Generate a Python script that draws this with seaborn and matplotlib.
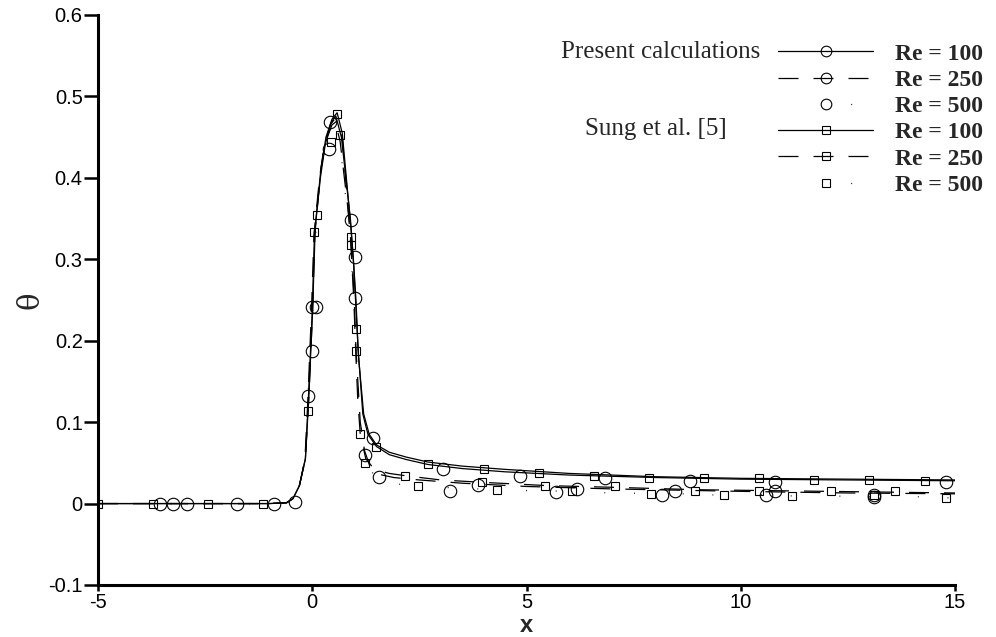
import numpy as np
import pandas as pd
import matplotlib
matplotlib.use("Agg")
import matplotlib.pyplot as plt
from matplotlib.lines import Line2D
import seaborn as sns

# ---------------- data ----------------
x_ticks = [-5, 0, 5, 10, 15]
x_tick_labels = ["-5", "0", "5", "10", "15"]
y_ticks = [-0.1, 0.0, 0.1, 0.2, 0.3, 0.4, 0.5, 0.6]
y_tick_labels = ["-0.1", "0", "0.1", "0.2", "0.3", "0.4", "0.5", "0.6"]

legend_labels = ["Re = 100", "Re = 250", "Re = 500", "Re = 100", "Re = 250", "Re = 500"]
group_labels = ["Present calculations", "Sung et al. [5]"]

# Present calculations, Re = 100 (curve)
p100_line_x = [-5, -1, -0.6, -0.45, -0.3, -0.16, -0.09, 0.0, 0.05, 0.19, 0.3, 0.44, 0.55, 0.68, 0.89, 0.96,
               1.02, 1.07, 1.18, 1.3, 1.5, 1.8, 2.2, 2.7, 3.5, 4.5, 6, 8, 10, 12.5, 15]
p100_line_y = [0, 0, 0.001, 0.006, 0.022, 0.055, 0.13, 0.235, 0.33, 0.40, 0.44, 0.468, 0.476, 0.45, 0.35, 0.30,
               0.25, 0.19, 0.11, 0.085, 0.07, 0.06, 0.054, 0.048, 0.043, 0.039, 0.035, 0.032, 0.030, 0.029, 0.028]
p100_mark_x = [-3.55, -1.75, -0.4, 0.0, 0.42, 0.91, 1.0, 1.42, 3.06, 4.85, 6.84, 8.82, 10.8, 14.8]
p100_mark_y = [0, 0, 0.002, 0.241, 0.468, 0.348, 0.303, 0.08, 0.043, 0.034, 0.031, 0.028, 0.027, 0.027]

# Present calculations, Re = 250
p250_line_x = [-5, -1, -0.6, -0.45, -0.3, -0.17, -0.1, -0.02, 0.04, 0.17, 0.28, 0.42, 0.52, 0.65, 0.86, 0.93,
               0.98, 1.02, 1.12, 1.22, 1.35, 1.55, 1.9, 2.5, 3.5, 5, 7, 10, 12.5, 15]
p250_line_y = [0, 0, 0.001, 0.006, 0.022, 0.055, 0.13, 0.235, 0.33, 0.40, 0.44, 0.465, 0.472, 0.445, 0.35, 0.30,
               0.25, 0.19, 0.10, 0.065, 0.045, 0.036, 0.032, 0.029, 0.025, 0.021, 0.018, 0.015, 0.013, 0.012]
p250_mark_x = [-3.24, -0.9, 0.09, 0.40, 1.0, 1.24, 1.56, 3.87, 6.18, 8.47, 10.8, 13.1]
p250_mark_y = [0, 0, 0.241, 0.435, 0.252, 0.06, 0.033, 0.023, 0.018, 0.016, 0.015, 0.011]

# Present calculations, Re = 500
p500_line_x = [-5, -1, -0.6, -0.45, -0.3, -0.17, -0.1, -0.02, 0.04, 0.17, 0.28, 0.42, 0.52, 0.65, 0.86, 0.93,
               0.98, 1.02, 1.1, 1.2, 1.35, 1.6, 2.0, 3, 5, 7, 10, 12.5, 15]
p500_line_y = [0, 0, 0.001, 0.006, 0.022, 0.055, 0.13, 0.235, 0.33, 0.40, 0.44, 0.462, 0.47, 0.44, 0.34, 0.29,
               0.24, 0.18, 0.095, 0.06, 0.04, 0.03, 0.025, 0.02, 0.016, 0.013, 0.011, 0.009, 0.008]
p500_mark_x = [-2.92, -0.09, 0.0, 3.22, 5.7, 8.17, 10.6, 13.1]
p500_mark_y = [0, 0.132, 0.187, 0.016, 0.014, 0.011, 0.010, 0.008]

# Sung et al. [5], Re = 100
s100_line_x = [-5, -1, -0.6, -0.45, -0.3, -0.16, -0.08, 0.01, 0.07, 0.2, 0.32, 0.46, 0.58, 0.7, 0.9, 0.97,
               1.03, 1.08, 1.2, 1.33, 1.5, 1.8, 2.2, 2.7, 3.5, 4.5, 6, 8, 10, 12.5, 15]
s100_line_y = [0, 0, 0.001, 0.006, 0.022, 0.055, 0.13, 0.24, 0.34, 0.41, 0.45, 0.472, 0.48, 0.455, 0.34, 0.29,
               0.23, 0.18, 0.11, 0.085, 0.072, 0.063, 0.057, 0.051, 0.046, 0.042, 0.037, 0.033, 0.031, 0.030, 0.029]
s100_mark_x = [-5, -2.43, 0.11, 0.58, 0.91, 1.03, 1.49, 2.71, 4.01, 5.3, 6.58, 7.86, 9.15, 10.43, 11.7, 13.0, 14.3]
s100_mark_y = [0, 0, 0.355, 0.479, 0.327, 0.215, 0.069, 0.049, 0.042, 0.037, 0.034, 0.031, 0.031, 0.032, 0.029,
               0.029, 0.028]

# Sung et al. [5], Re = 250
s250_line_x = [-5, -1, -0.6, -0.45, -0.3, -0.16, -0.08, 0.01, 0.06, 0.2, 0.32, 0.46, 0.58, 0.7, 0.9, 0.97,
               1.02, 1.06, 1.12, 1.25, 1.45, 1.8, 2.2, 3, 4, 5.5, 7, 9, 12, 15]
s250_line_y = [0, 0, 0.001, 0.006, 0.022, 0.055, 0.13, 0.24, 0.33, 0.41, 0.445, 0.465, 0.47, 0.45, 0.32, 0.25,
               0.18, 0.13, 0.085, 0.055, 0.042, 0.037, 0.034, 0.029, 0.026, 0.022, 0.02, 0.017, 0.015, 0.013]
s250_mark_x = [-3.71, 0.04, 0.65, 0.91, 1.12, 2.17, 3.97, 5.44, 7.07, 8.94, 10.43, 12.1, 13.6]
s250_mark_y = [0, 0.333, 0.453, 0.318, 0.086, 0.034, 0.027, 0.022, 0.021, 0.016, 0.016, 0.015, 0.015]

# Sung et al. [5], Re = 500
s500_line_x = [-5, -1, -0.6, -0.45, -0.3, -0.16, -0.09, 0.0, 0.06, 0.2, 0.32, 0.44, 0.55, 0.7, 0.9, 0.97,
               1.03, 1.1, 1.24, 1.5, 2.0, 2.5, 4.3, 6, 8, 10, 12, 15]
s500_line_y = [0, 0, 0.001, 0.006, 0.022, 0.055, 0.114, 0.22, 0.32, 0.40, 0.435, 0.444, 0.45, 0.42, 0.31, 0.25,
               0.187, 0.11, 0.05, 0.03, 0.024, 0.021, 0.017, 0.015, 0.012, 0.010, 0.009, 0.007]
s500_mark_x = [-1.14, -0.09, 0.44, 1.03, 1.24, 2.47, 4.32, 6.07, 7.91, 9.6, 11.2, 13.1, 14.8]
s500_mark_y = [0, 0.114, 0.444, 0.187, 0.05, 0.021, 0.017, 0.015, 0.012, 0.010, 0.009, 0.010, 0.007]

# ---------------- style ----------------
sns.set_theme(style="ticks")
plt.rcParams['font.family'] = ['Liberation Sans', 'DejaVu Sans']
plt.rcParams['axes.unicode_minus'] = False

SOLID = '-'
DASHED = (0, (16, 12))
DOTTED = (4.5, (0.7, 62))

series = [
    dict(lx=p100_line_x, ly=p100_line_y, mx=p100_mark_x, my=p100_mark_y, ls=SOLID, m='o', ms=9),
    dict(lx=p250_line_x, ly=p250_line_y, mx=p250_mark_x, my=p250_mark_y, ls=DASHED, m='o', ms=9),
    dict(lx=p500_line_x, ly=p500_line_y, mx=p500_mark_x, my=p500_mark_y, ls=DOTTED, m='o', ms=9),
    dict(lx=s100_line_x, ly=s100_line_y, mx=s100_mark_x, my=s100_mark_y, ls=SOLID, m='s', ms=6),
    dict(lx=s250_line_x, ly=s250_line_y, mx=s250_mark_x, my=s250_mark_y, ls=DASHED, m='s', ms=6),
    dict(lx=s500_line_x, ly=s500_line_y, mx=s500_mark_x, my=s500_mark_y, ls=DOTTED, m='s', ms=6),
]

fig = plt.figure(figsize=(9.96, 6.37), dpi=100)
ax = fig.add_axes([98 / 996, 1 - 585 / 637, (955 - 98) / 996, (585 - 15) / 637])

handles = []
for s in series:
    dfl = pd.DataFrame({'x': s['lx'], 'y': s['ly']})
    sns.lineplot(data=dfl, x='x', y='y', ax=ax, sort=False, estimator=None,
                 color='black', linewidth=0.9, linestyle=s['ls'])
    dfm = pd.DataFrame({'x': s['mx'], 'y': s['my']})
    sns.lineplot(data=dfm, x='x', y='y', ax=ax, sort=False, estimator=None,
                 color='black', linestyle='none', marker=s['m'], markersize=s['ms'],
                 markerfacecolor='none', markeredgecolor='black', markeredgewidth=0.8)
    handles.append(Line2D([], [], color='black', linewidth=0.9, linestyle=s['ls'],
                          marker=s['m'], markersize=s['ms'] * 0.85,
                          markerfacecolor='none', markeredgecolor='black', markeredgewidth=0.8))

ax.set_xlim(-5, 15)
ax.set_ylim(-0.1, 0.6)
ax.set_xticks(x_ticks)
ax.set_xticklabels(x_tick_labels)
ax.set_yticks(y_ticks)
ax.set_yticklabels(y_tick_labels)
ax.tick_params(axis='x', direction='out', length=4, width=1.8, pad=2, labelsize=14.5, colors='black')
ax.tick_params(axis='y', direction='out', length=10, width=1.8, pad=1, labelsize=14.5, colors='black')

for side in ['top', 'right']:
    ax.spines[side].set_visible(False)
for side in ['left', 'bottom']:
    ax.spines[side].set_linewidth(2.2)
    ax.spines[side].set_color('black')

ax.set_xlabel('x', fontsize=17, fontweight='bold', labelpad=1.5)
ax.set_ylabel('θ', fontsize=21, labelpad=3, family=['DejaVu Serif', 'Liberation Serif'])
ax.grid(False)

leg = fig.legend(handles, legend_labels, loc='upper left',
                 bbox_to_anchor=(778 / 996, 1 - 43 / 637),
                 frameon=False, borderpad=0, borderaxespad=0,
                 handlelength=95 / 23.6, handletextpad=0.95, labelspacing=0.2,
                 prop={'family': 'Liberation Serif', 'weight': 'bold', 'size': 17})

fig.text(760 / 996, 1 - 52 / 637, group_labels[0], ha='right', va='center',
         fontsize=18, family='Liberation Serif')
fig.text(727 / 996, 1 - 129 / 637, group_labels[1], ha='right', va='center',
         fontsize=18, family='Liberation Serif')

fig.savefig('out.png', dpi=100)
